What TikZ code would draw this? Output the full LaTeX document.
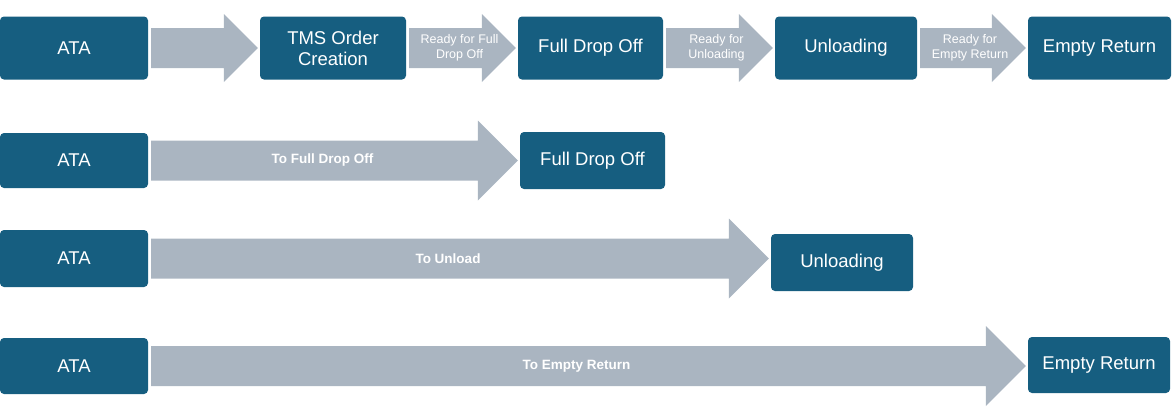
\documentclass[tikz,border=0pt]{standalone}
\usepackage{fontspec}
\setmainfont{Liberation Sans}
\usetikzlibrary{calc}
\definecolor{boxblue}{RGB}{22,94,128}
\definecolor{arrowgray}{RGB}{170,181,193}

% block arrow: start node, end node, head size, label style, label
\newcommand{\flowarrow}[5]{%
\coordinate (s) at ($(#1.east)+(3,0)$);
\coordinate (e) at ($(#2.west)+(-2,0)$);
\coordinate (t) at (s -| e);
\fill[arrowgray] ($(s)+(0,-20)$) -- ($(t)+(-#3,-20)$) -- ($(t)+(-#3,-#3)$) -- (t)
  -- ($(t)+(-#3,#3)$) -- ($(t)+(-#3,20)$) -- ($(s)+(0,20)$) -- cycle;
\node[#4] at ($(s)!0.5!(t)$) {#5};
}

\begin{document}
\begin{tikzpicture}[x=1pt,y=-1pt,
  stage/.style={fill=boxblue,rounded corners=4pt,text=white,align=center,
    font=\fontsize{18.5}{21}\selectfont,inner sep=0pt,minimum height=63pt},
  steplabel/.style={text=white,align=center,xshift=-3pt,
    font=\fontsize{12.5}{14.5}\selectfont},
  legnote/.style={text=white,xshift=-12pt,font=\fontsize{13.5}{15}\selectfont\bfseries}]
\useasboundingbox (0,0) rectangle (1172,410);
% full chain
\node[stage,minimum width=148pt] (ata1) at (74,48) {ATA};
\node[stage,minimum width=146pt] (tms) at (333,48) {TMS Order\\Creation};
\node[stage,minimum width=145pt] (fdo1) at (590.5,48) {Full Drop Off};
\node[stage,minimum width=142pt] (unl1) at (846,48) {Unloading};
\node[stage,minimum width=143pt] (er1) at (1099.5,48) {Empty Return};
\flowarrow{ata1}{tms}{34}{steplabel}{}
\flowarrow{tms}{fdo1}{34}{steplabel}{Ready for Full\\Drop Off}
\flowarrow{fdo1}{unl1}{34}{steplabel}{Ready for\\Unloading}
\flowarrow{unl1}{er1}{34}{steplabel}{Ready for\\Empty Return}
% legs
\node[stage,minimum width=148pt,minimum height=55pt] (ata2) at (74,160.5) {ATA};
\node[stage,minimum width=145pt,minimum height=57pt] (fdo2) at (592.5,160.5) {Full Drop Off};
\flowarrow{ata2}{fdo2}{40}{legnote}{To Full Drop Off}
\node[stage,minimum width=148pt,minimum height=57pt] (ata3) at (74,258.5) {ATA};
\node[stage,minimum width=142pt,minimum height=57pt] (unl3) at (842,262.5) {Unloading};
\flowarrow{ata3}{unl3}{40}{legnote}{To Unload}
\node[stage,minimum width=148pt,minimum height=56pt] (ata4) at (74,366) {ATA};
\node[stage,minimum width=142pt,minimum height=56pt] (er4) at (1099,365) {Empty Return};
\flowarrow{ata4}{er4}{40}{legnote}{To Empty Return}
\end{tikzpicture}
\end{document}
